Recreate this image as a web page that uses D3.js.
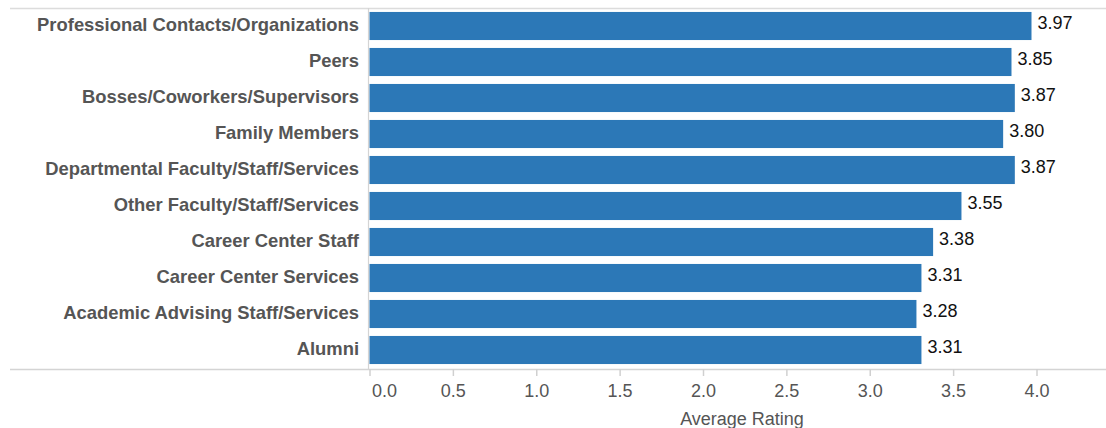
<!DOCTYPE html>
<html><head><meta charset="utf-8">
<script src="https://cdn.jsdelivr.net/npm/d3@7"></script>
<style>body{margin:0;background:#fff}svg{display:block}</style>
</head><body>
<svg id="c" width="1106" height="428"></svg>
<script>
const categories = ["Professional Contacts/Organizations","Peers","Bosses/Coworkers/Supervisors","Family Members","Departmental Faculty/Staff/Services","Other Faculty/Staff/Services","Career Center Staff","Career Center Services","Academic Advising Staff/Services","Alumni"];
const values = [3.97,3.85,3.87,3.80,3.87,3.55,3.38,3.31,3.28,3.31];
const tickValues = [0,0.5,1,1.5,2,2.5,3,3.5,4];
const axisTitle = "Average Rating";

const svg = d3.select("#c");
const x = d3.scaleLinear().domain([0,4]).range([369.5,1036.5]);
const y = d3.scaleBand().domain(categories).range([8,368]).paddingInner(0.22).paddingOuter(0.11);
const FF = "'Liberation Sans', Arial, sans-serif";

// frame lines
svg.append("line").attr("x1",10).attr("x2",1106).attr("y1",8.5).attr("y2",8.5).attr("stroke","#dcdcdc").attr("stroke-width",1.5);
svg.append("line").attr("x1",10).attr("x2",1106).attr("y1",369.5).attr("y2",369.5).attr("stroke","#d4d4d4").attr("stroke-width",1.5);
svg.append("line").attr("x1",368.5).attr("x2",368.5).attr("y1",8).attr("y2",369).attr("stroke","#d4d4d4").attr("stroke-width",1.2);

// bars
svg.selectAll("rect.bar").data(values).join("rect")
  .attr("class","bar")
  .attr("x",x(0)).attr("y",(d,i)=>y(categories[i]))
  .attr("width",d=>x(d)-x(0)).attr("height",y.bandwidth())
  .attr("fill","#2c78b7");

// value labels
svg.selectAll("text.val").data(values).join("text")
  .attr("class","val")
  .attr("x",d=>x(d)+6).attr("y",(d,i)=>y(categories[i])+y.bandwidth()/2-2)
  .attr("dominant-baseline","middle")
  .attr("font-family",FF).attr("font-size",18).attr("fill","#111")
  .text(d=>d.toFixed(2));

// category labels
svg.selectAll("text.cat").data(categories).join("text")
  .attr("class","cat")
  .attr("x",359).attr("y",d=>y(d)+y.bandwidth()/2)
  .attr("dominant-baseline","middle").attr("text-anchor","end")
  .attr("font-family",FF).attr("font-size",18.4).attr("font-weight","bold").attr("fill","#555")
  .text(d=>d);

// x axis
const ax = svg.append("g").attr("transform","translate(0,369)")
  .call(d3.axisBottom(x).tickValues(tickValues).tickFormat(d3.format(".1f")).tickSize(7).tickPadding(8));
ax.select(".domain").remove();
ax.selectAll(".tick line").attr("stroke","#d0d0d0").attr("stroke-width",1.5);
ax.selectAll(".tick text").attr("font-family",FF).attr("font-size",18).attr("fill","#555")
  .attr("text-anchor",(d,i)=>i===0?"start":"middle").attr("dx",(d,i)=>i===0?2:0);

svg.append("text").attr("x",742).attr("y",425).attr("text-anchor","middle")
  .attr("font-family",FF).attr("font-size",18).attr("fill","#555").text(axisTitle);
</script>
</body></html>
